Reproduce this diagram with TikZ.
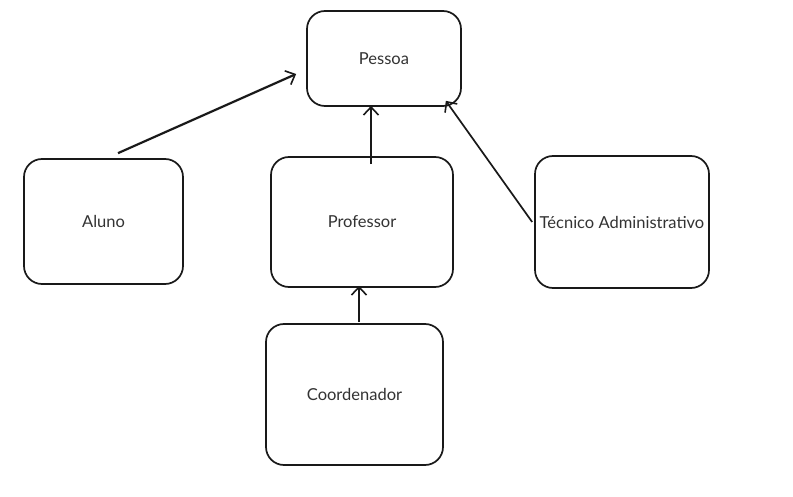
\documentclass[tikz,border=0pt]{standalone}
\usepackage{fontspec}
\setmainfont{Lato}
\usetikzlibrary{arrows.meta}
\begin{document}
\begin{tikzpicture}[x=1pt,y=-1pt,
  box/.style={draw=black!90, line width=1.7pt, rounded corners=18pt, fill=white, font=\fontsize{16.5}{18}\selectfont, text=black!80},
  link/.style={draw=black!90, line width=2.2pt, -{Straight Barb[length=8pt,width=15pt,line width=1.6pt]}}]
\useasboundingbox[fill=white] (0,0) rectangle (793,497);
\node[box, minimum width=154pt, minimum height=95pt] (pessoa) at (384,58.5) {Pessoa};
\node[box, minimum width=159pt, minimum height=125pt] (aluno) at (103.5,221.5) {Aluno};
\node[box, minimum width=182pt, minimum height=130pt] (professor) at (362,222) {Professor};
\node[box, minimum width=174pt, minimum height=132pt, inner sep=1pt] (tecnico) at (622,222) {Técnico Administrativo};
\node[box, minimum width=177pt, minimum height=141pt] (coord) at (354.5,394.5) {Coordenador};
\draw[link] ([xshift=14.5pt,yshift=5pt]aluno.north) -- ([xshift=-10pt,yshift=-15.5pt]pessoa.west);
\draw[link] ([xshift=9pt,yshift=-8pt]professor.north) -- ([xshift=-13pt,yshift=1pt]pessoa.south);
\draw[link, line width=1.7pt] ([xshift=-2pt]tecnico.west) -- ([xshift=-16pt,yshift=6pt]pessoa.south east);
\draw[link] ([xshift=4.5pt,yshift=1pt]coord.north) -- ([xshift=-3pt,yshift=2pt]professor.south);
\end{tikzpicture}
\end{document}
